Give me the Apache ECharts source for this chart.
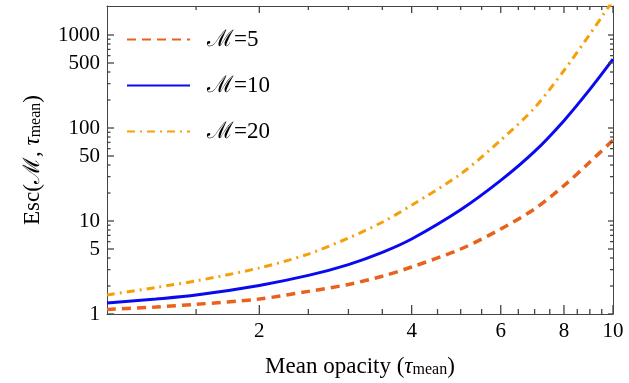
<!DOCTYPE html>
<html>
<head>
<meta charset="utf-8">
<script src="https://cdn.jsdelivr.net/npm/echarts@6/dist/echarts.min.js"></script>
<style>
  html, body { margin: 0; padding: 0; background: #fff; }
  #chart { width: 629px; height: 383px; }
</style>
</head>
<body>
<div id="chart"></div>
<script>
const tau = [1, 1.25, 1.5, 2, 2.5, 3, 3.5, 4, 5, 6, 7, 8, 9, 10]
const escM5 = [1.12, 1.19, 1.27, 1.45, 1.75, 2.08, 2.55, 3.2, 5.0, 8.2, 13.5, 24, 43, 74]
const escM10 = [1.31, 1.45, 1.6, 2.03, 2.6, 3.4, 4.6, 6.4, 13.2, 27.3, 56, 120, 260, 550]
const escM20 = [1.6, 1.93, 2.27, 3.13, 4.41, 6.56, 9.7, 14.8, 32, 74, 165, 415, 1020, 2350]
const seriesNames = ['ℳ=5', 'ℳ=10', 'ℳ=20']

// axis range and frame ticks
const xMin = 1
const xMax = 10
const yMin = 1
const yMax = 2050
const xMajor = [2, 4, 6, 8, 10]
const xMinor = [1.5, 2.5, 3, 3.5, 4.5, 5, 5.5, 6.5, 7, 7.5, 8.5, 9, 9.5]
const yMajor = [1, 5, 10, 50, 100, 500, 1000]
const yMinor = [2, 3, 4, 6, 7, 8, 9, 20, 30, 40, 60, 70, 80, 90, 200, 300, 400, 600, 700, 800, 900]

const font = '"Liberation Serif", "DejaVu Serif", serif'
const frameColor = '#444'

function pairs(ys) {
  return tau.map((t, i) => [t, ys[i]])
}

// tick marks drawn as thin rects sitting on the frame, inside the plot
function tickSeries(data, size, offset) {
  return {
    type: 'scatter',
    data: data,
    symbol: 'rect',
    symbolSize: size,
    symbolOffset: offset,
    itemStyle: { color: frameColor, opacity: 1 },
    clip: false,
    silent: true,
    z: 5,
  }
}

const nameRich = {
  n: { fontFamily: font, fontSize: 23, color: '#000', lineHeight: 26, verticalAlign: 'bottom' },
  t: { fontFamily: font, fontSize: 23, fontStyle: 'italic', color: '#000', lineHeight: 26, verticalAlign: 'bottom' },
  s: { fontFamily: font, fontSize: 16, color: '#000', lineHeight: 7, verticalAlign: 'bottom' },
}

function axisBase(min, max, position) {
  return {
    type: 'log',
    logBase: 10,
    min: min,
    max: max,
    position: position,
    axisLine: { show: true, lineStyle: { color: frameColor, width: 1 } },
    splitLine: { show: false },
    axisTick: { show: false },
    axisLabel: { show: false },
  }
}

const xBottom = axisBase(xMin, xMax, 'bottom')
xBottom.axisLabel = {
  show: true, customValues: xMajor, margin: 7,
  fontFamily: font, fontSize: 21, color: '#000',
  formatter: (v) => String(Math.round(v)),
}
xBottom.name = '{n|Mean opacity (}{t|τ}{s|mean}{n|)}'
xBottom.nameLocation = 'middle'
xBottom.nameGap = 38
xBottom.nameTextStyle = { rich: nameRich }

const yLeft = axisBase(yMin, yMax, 'left')
yLeft.axisLabel = {
  show: true, customValues: yMajor, margin: 7,
  fontFamily: font, fontSize: 21, color: '#000',
  formatter: (v) => String(Math.round(v)),
}
yLeft.name = '{n|Esc(ℳ, }{t|τ}{s|mean}{n|)}'
yLeft.nameLocation = 'middle'
yLeft.nameRotate = 90
yLeft.nameGap = 63
yLeft.nameTextStyle = { rich: nameRich }

const chart = echarts.init(document.getElementById('chart'))

chart.setOption({
  animation: false,
  grid: { left: 107, right: 16, top: 6, bottom: 66, containLabel: false },
  xAxis: [xBottom, axisBase(xMin, xMax, 'top')],
  yAxis: [yLeft, axisBase(yMin, yMax, 'right')],
  legend: {
    orient: 'vertical',
    left: 121,
    top: 23,
    itemWidth: 63,
    itemHeight: 14,
    itemGap: 23,
    itemStyle: { opacity: 0 },
    textStyle: { fontFamily: font, fontSize: 23, color: '#000', padding: [0, 0, 0, 12] },
    data: seriesNames,
  },
  series: [
    {
      name: seriesNames[0],
      type: 'line',
      data: pairs(escM5),
      smooth: 0.3,
      showSymbol: false,
      symbol: 'none',
      color: '#E8621E',
      lineStyle: { color: '#E8621E', width: 3.5, type: [9, 6] },
      z: 3,
    },
    {
      name: seriesNames[1],
      type: 'line',
      data: pairs(escM10),
      smooth: 0.3,
      showSymbol: false,
      symbol: 'none',
      color: '#0A0AF0',
      lineStyle: { color: '#0A0AF0', width: 3 },
      z: 3,
    },
    {
      name: seriesNames[2],
      type: 'line',
      data: pairs(escM20),
      smooth: 0.3,
      showSymbol: false,
      symbol: 'none',
      color: '#F5A00A',
      lineStyle: { color: '#F5A00A', width: 3, type: [8, 5, 2, 5] },
      z: 3,
    },
    // bottom / top frame ticks
    tickSeries(xMajor.map((v) => [v, yMin]), [1.3, 9], [0, -4.5]),
    tickSeries(xMinor.map((v) => [v, yMin]), [1.3, 5], [0, -2.5]),
    tickSeries(xMajor.map((v) => [v, yMax]), [1.3, 7], [0, 3.5]),
    tickSeries(xMinor.map((v) => [v, yMax]), [1.3, 4], [0, 2]),
    // left / right frame ticks
    tickSeries(yMajor.map((v) => [xMin, v]), [7, 1.3], [3.5, 0]),
    tickSeries(yMinor.map((v) => [xMin, v]), [3.5, 1.3], [1.75, 0]),
    tickSeries(yMajor.map((v) => [xMax, v]), [5, 1.3], [-2.5, 0]),
    tickSeries(yMinor.map((v) => [xMax, v]), [3, 1.3], [-1.5, 0]),
  ],
})
</script>
</body>
</html>
